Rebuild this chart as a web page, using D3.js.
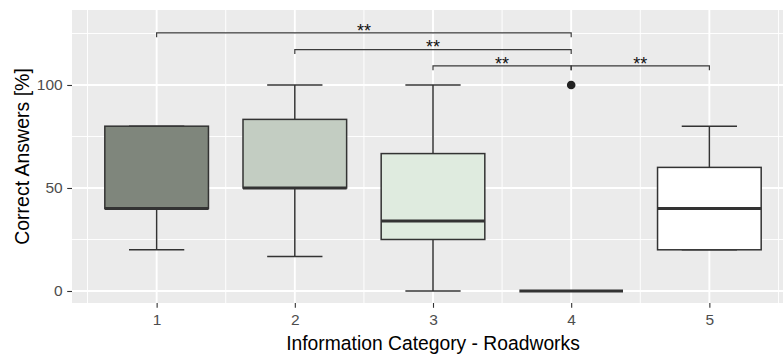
<!DOCTYPE html>
<html><head><meta charset="utf-8">
<script src="https://cdn.jsdelivr.net/npm/d3@7"></script>
<style>
body{margin:0;background:#fff;overflow:hidden}
svg{display:block}
text{font-family:"Liberation Sans",Arial,Helvetica,sans-serif}
</style>
</head><body>
<svg id="chart" width="783" height="354"></svg>
<script>
// ---- data ----
const categories = [1, 2, 3, 4, 5];
const whiskerLow = [20, 16.7, 0, 0, 20];
const q1 = [40, 50, 25, 0, 20];
const medians = [40, 50, 34, 0, 40];
const q3 = [80, 83.3, 66.7, 0, 60];
const whiskerHigh = [80, 100, 100, 0, 80];
const fills = ["#7F867C", "#C3CDC2", "#DFEBDF", "#9FA99E", "#FFFFFF"];
const outlierCats = [4];
const outlierValues = [100];
const bracketFrom = [1, 2, 3, 4];
const bracketTo = [4, 4, 4, 5];
const bracketY = [125.3, 117.2, 109.3, 109.3];
const bracketLabels = ["**", "**", "**", "**"];
const yTicks = [0, 50, 100];
const yMinor = [25, 75, 125];
const xMinor = [0.5, 1.5, 2.5, 3.5, 4.5, 5.5];
const xTitle = "Information Category - Roadworks";
const yTitle = "Correct Answers [%]";

// ---- layout ----
const W = 783, H = 354;
const panel = {left: 72, right: 794, top: 10, bottom: 303};
const svg = d3.select("#chart");
svg.append("rect").attr("width", W).attr("height", H).attr("fill", "#fff");

const x = d3.scaleLinear().domain([0.3875, 5.6125]).range([panel.left, panel.right]);
const y = d3.scaleLinear().domain([-5.83, 136.4]).range([panel.bottom, panel.top]);
const step = x(1) - x(0);

// panel background
svg.append("rect")
  .attr("x", panel.left).attr("y", panel.top)
  .attr("width", panel.right - panel.left).attr("height", panel.bottom - panel.top)
  .attr("fill", "#EBEBEB");

const grid = svg.append("g");
// minor grid
grid.selectAll("line.ymin").data(yMinor).join("line")
  .attr("x1", panel.left).attr("x2", panel.right)
  .attr("y1", d => y(d)).attr("y2", d => y(d))
  .attr("stroke", "#fff").attr("stroke-width", 0.95);
grid.selectAll("line.xmin").data(xMinor).join("line")
  .attr("y1", panel.top).attr("y2", panel.bottom)
  .attr("x1", d => x(d)).attr("x2", d => x(d))
  .attr("stroke", "#fff").attr("stroke-width", 0.95);
// major grid
grid.selectAll("line.ymaj").data(yTicks).join("line")
  .attr("x1", panel.left).attr("x2", panel.right)
  .attr("y1", d => y(d)).attr("y2", d => y(d))
  .attr("stroke", "#fff").attr("stroke-width", 1.9);
grid.selectAll("line.xmaj").data(categories).join("line")
  .attr("y1", panel.top).attr("y2", panel.bottom)
  .attr("x1", d => x(d)).attr("x2", d => x(d))
  .attr("stroke", "#fff").attr("stroke-width", 1.9);

// boxplots
const lineCol = "#333333";
const boxes = svg.append("g");
categories.forEach((c, i) => {
  const g = boxes.append("g");
  const cx = x(c);
  // errorbar (whiskers + caps)
  g.append("line").attr("x1", cx).attr("x2", cx)
    .attr("y1", y(whiskerLow[i])).attr("y2", y(whiskerHigh[i]))
    .attr("stroke", lineCol).attr("stroke-width", 1.5);
  [whiskerLow[i], whiskerHigh[i]].forEach(v => {
    g.append("line")
      .attr("x1", cx - 0.2 * step).attr("x2", cx + 0.2 * step)
      .attr("y1", y(v)).attr("y2", y(v))
      .attr("stroke", lineCol).attr("stroke-width", 1.5);
  });
  // box
  g.append("rect")
    .attr("x", cx - 0.375 * step).attr("width", 0.75 * step)
    .attr("y", y(q3[i])).attr("height", Math.max(0, y(q1[i]) - y(q3[i])))
    .attr("fill", fills[i]).attr("stroke", lineCol).attr("stroke-width", 1.5);
  // median
  g.append("line")
    .attr("x1", cx - 0.375 * step).attr("x2", cx + 0.375 * step)
    .attr("y1", y(medians[i])).attr("y2", y(medians[i]))
    .attr("stroke", lineCol).attr("stroke-width", 3);
});

// outliers
svg.append("g").selectAll("circle").data(outlierCats).join("circle")
  .attr("cx", d => x(d)).attr("cy", (d, i) => y(outlierValues[i]))
  .attr("r", 4.3).attr("fill", "#222");

// significance brackets
const tip = 2.1;
const br = svg.append("g");
bracketFrom.forEach((a, i) => {
  const b = bracketTo[i];
  const yv = bracketY[i];
  br.append("path")
    .attr("d", `M${x(a)},${y(yv - tip)}L${x(a)},${y(yv)}L${x(b)},${y(yv)}L${x(b)},${y(yv - tip)}`)
    .attr("fill", "none").attr("stroke", "#3a3a3a").attr("stroke-width", 1.2);
  br.append("text")
    .attr("x", (x(a) + x(b)) / 2).attr("y", y(yv) + 3.8)
    .attr("text-anchor", "middle").attr("font-size", 18).attr("fill", "#111")
    .text(bracketLabels[i]);
});

// axes
const yAxis = svg.append("g").attr("transform", `translate(${panel.left},0)`)
  .call(d3.axisLeft(y).tickValues(yTicks).tickSize(4.8).tickPadding(4.5));
const xAxis = svg.append("g").attr("transform", `translate(0,${panel.bottom})`)
  .call(d3.axisBottom(x).tickValues(categories).tickFormat(d3.format("d")).tickSize(4.8).tickPadding(6.5));
[yAxis, xAxis].forEach(a => {
  a.select(".domain").remove();
  a.selectAll(".tick line").attr("stroke", "#333").attr("stroke-width", 1.1);
  a.selectAll(".tick text").attr("fill", "#4D4D4D").attr("font-size", 15.5)
    .attr("font-family", "'Liberation Sans', Arial, sans-serif");
});

// titles
svg.append("text")
  .attr("x", (panel.left + panel.right) / 2).attr("y", 349.5)
  .attr("text-anchor", "middle").attr("font-size", 19.3).attr("fill", "#000")
  .text(xTitle);
svg.append("text")
  .attr("transform", `translate(28.8,${(panel.top + panel.bottom) / 2}) rotate(-90)`)
  .attr("text-anchor", "middle").attr("font-size", 19.5).attr("fill", "#000")
  .text(yTitle);
</script>
</body></html>
